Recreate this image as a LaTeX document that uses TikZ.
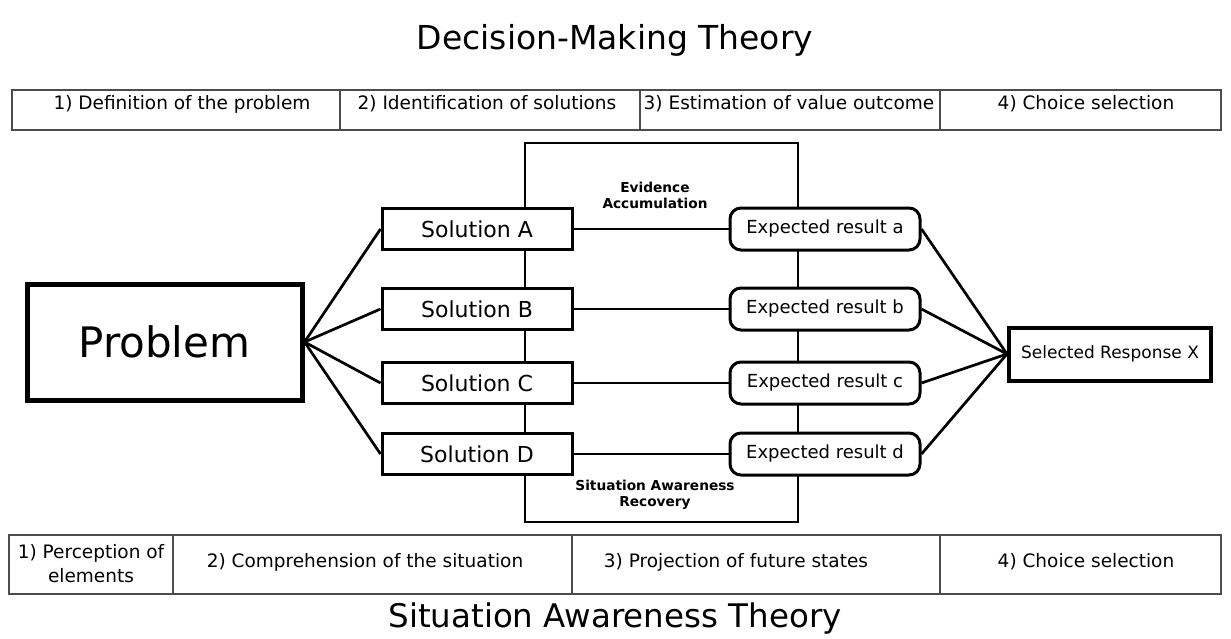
\documentclass[tikz,border=0pt]{standalone}
\usepackage{fontspec}
\setmainfont{DejaVu Sans}
\begin{document}
\begin{tikzpicture}[x=1pt,y=-1pt,
    grid/.style={draw=black!70,line width=1.2pt},
    cell/.style={font=\fontsize{18.5}{22}\selectfont,align=center},
    solbox/.style={draw,line width=3pt,fill=white,minimum width=190pt,minimum height=41pt,font=\fontsize{22}{26}\selectfont},
    resbox/.style={draw,line width=3pt,fill=white,rounded corners=11pt,minimum width=190pt,minimum height=42pt,font=\fontsize{18}{21}\selectfont},
    link/.style={line width=2.7pt},
    tag/.style={font=\bfseries\fontsize{13.7}{16}\selectfont,align=center}]
    \useasboundingbox (0,0) rectangle (1231,638);
    % titles
    \node[font=\fontsize{33}{38}\selectfont] (dmt) at (615,40) {Decision-Making Theory};
    \node[font=\fontsize{32.5}{38}\selectfont] (sat) at (615,619) {Situation Awareness Theory};
    % top table
    \draw[grid] (12,90) rectangle (1221,130);
    \draw[grid] (340,90) -- (340,130);
    \draw[grid] (640,90) -- (640,130);
    \draw[grid] (940,90) -- (940,130);
    \node[cell] (dm1) at (182,104) {1) Definition of the problem};
    \node[cell] (dm2) at (487,104) {2) Identification of solutions};
    \node[cell] (dm3) at (789,104) {3) Estimation of value outcome};
    \node[cell] (dm4) at (1086,104) {4) Choice selection};
    % bottom table
    \draw[grid] (9,535) rectangle (1221,594);
    \draw[grid] (173,535) -- (173,594);
    \draw[grid] (572,535) -- (572,594);
    \draw[grid] (940,535) -- (940,594);
    \node[cell,font=\fontsize{18.5}{24}\selectfont] (sa1) at (91,564) {1) Perception of\\elements};
    \node[cell] (sa2) at (365,562) {2) Comprehension of the situation};
    \node[cell] (sa3) at (736,562) {3) Projection of future states};
    \node[cell] (sa4) at (1086,562) {4) Choice selection};
    % middle frame
    \draw[line width=2.7pt] (525,143) rectangle (798,522);
    \node[tag] (ev) at (655,195) {Evidence\\Accumulation};
    \node[tag] (rec) at (655,495) {Situation Awareness\\Recovery};
    % boxes
    \node[draw,line width=5pt,minimum width=275pt,minimum height=116pt,font=\fontsize{42}{48}\selectfont] (prob) at (164.5,342) {Problem};
    \node[solbox] (solA) at (477,229) {Solution A};
    \node[solbox] (solB) at (477,309) {Solution B};
    \node[solbox] (solC) at (477,383) {Solution C};
    \node[solbox] (solD) at (477,454) {Solution D};
    \node[resbox] (resA) at (825,229) {Expected result a};
    \node[resbox] (resB) at (825,309) {Expected result b};
    \node[resbox] (resC) at (825,383) {Expected result c};
    \node[resbox] (resD) at (825,454) {Expected result d};
    \node[draw,line width=4pt,minimum width=202pt,minimum height=53pt,font=\fontsize{17}{20}\selectfont] (resp) at (1110,354) {Selected Response X};
    % links
    \draw[link] (prob.east) -- (solA.west);
    \draw[link] (prob.east) -- (solB.west);
    \draw[link] (prob.east) -- (solC.west);
    \draw[link] (prob.east) -- (solD.west);
    \draw[link] (solA) -- (resA);
    \draw[link] (solB) -- (resB);
    \draw[link] (solC) -- (resC);
    \draw[link] (solD) -- (resD);
    \draw[link] (resA.east) -- (resp.west);
    \draw[link] (resB.east) -- (resp.west);
    \draw[link] (resC.east) -- (resp.west);
    \draw[link] (resD.east) -- (resp.west);
\end{tikzpicture}
\end{document}
